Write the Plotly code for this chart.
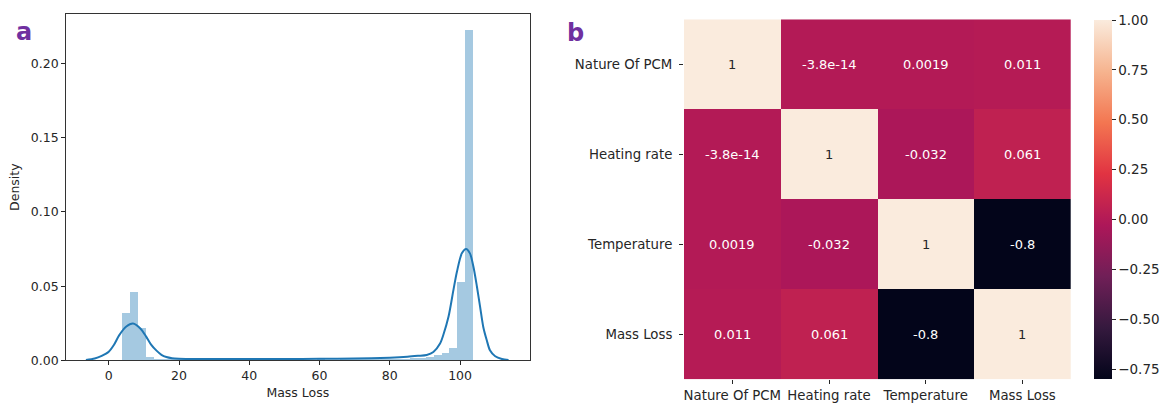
import numpy as np
import plotly.graph_objects as go

# ---------------- Panel a: Mass Loss distribution ----------------
hist_start = 3.8
hist_end = 103.5
hist_density = [
    0.032, 0.046, 0.022, 0.0025, 0.0012,
    0.0009, 0.0006, 0.0006, 0.0005, 0.0005, 0.0006, 0.0005, 0.0005, 0.0006, 0.0005,
    0.0005, 0.0006, 0.0005, 0.0005, 0.0006, 0.0005, 0.0005, 0.0006, 0.0005, 0.0005,
    0.0006, 0.0005, 0.0005, 0.0006, 0.0006, 0.0006, 0.0007, 0.0007, 0.0008, 0.0009,
    0.0010, 0.0011, 0.0013, 0.0016,
    0.0020, 0.0034, 0.0049, 0.0083, 0.053, 0.223,
]
kde_x = [-6.5, -4, -2, 0, 1.5, 3, 5, 6.9, 9, 10.7, 12, 13.6, 15, 16.4, 18, 20,
         30, 40, 50, 60, 70, 80, 85, 88, 90.5, 92.4, 94.3, 95.2, 96.7, 98.1, 99.1,
         100.5, 101.7, 102.8, 103.8, 104.8, 105.7, 106.6, 107.6, 108.5, 110, 111.9, 113.8]
kde_y = [0.0002, 0.0012, 0.003, 0.0058, 0.0105, 0.017, 0.0228, 0.0248, 0.0215, 0.0158,
         0.0108, 0.0065, 0.0037, 0.0022, 0.0014, 0.0011,
         0.0009, 0.0009, 0.0009, 0.0010, 0.0012, 0.0018, 0.0024, 0.0030, 0.0036, 0.0056,
         0.0113, 0.0169, 0.0293, 0.0473, 0.0597,
         0.0721, 0.0750, 0.0721, 0.0631, 0.0496, 0.0360, 0.0225, 0.0135, 0.0068, 0.0027,
         0.0009, 0.0002]
a_xticks = [0, 20, 40, 60, 80, 100]
a_yticks = [0.00, 0.05, 0.10, 0.15, 0.20]

# ---------------- Panel b: correlation matrix ----------------
variables = ["Nature Of PCM", "Heating rate", "Temperature", "Mass Loss"]
corr = [
    [1.0, -3.8e-14, 0.0019, 0.011],
    [-3.8e-14, 1.0, -0.032, 0.061],
    [0.0019, -0.032, 1.0, -0.8],
    [0.011, 0.061, -0.8, 1.0],
]
corr_text = [
    ["1", "-3.8e-14", "0.0019", "0.011"],
    ["-3.8e-14", "1", "-0.032", "0.061"],
    ["0.0019", "-0.032", "1", "-0.8"],
    ["0.011", "0.061", "-0.8", "1"],
]
cbar_ticks = [1.0, 0.75, 0.5, 0.25, 0.0, -0.25, -0.5, -0.75]

# rocket colormap
rocket = [
    [0.0, "#03051a"], [1 / 7, "#35193e"], [2 / 7, "#701f57"], [3 / 7, "#ad1759"],
    [4 / 7, "#e13342"], [5 / 7, "#f37651"], [6 / 7, "#f6b48f"], [1.0, "#faebdd"],
]

W, H = 1164, 403
TXT = "#262626"
FONT = "DejaVu Sans"

def px_x(p):
    return p / W

def px_y(p):
    return 1 - p / H

edges = np.linspace(hist_start, hist_end, len(hist_density) + 1)
centers = (edges[:-1] + edges[1:]) / 2
bw = edges[1] - edges[0]

fig = go.Figure()
fig.add_trace(go.Bar(
    x=centers, y=hist_density, width=bw,
    marker=dict(color="rgba(31,119,180,0.4)", line=dict(width=0)),
    xaxis="x", yaxis="y", showlegend=False, hoverinfo="skip",
))
fig.add_trace(go.Scatter(
    x=kde_x, y=kde_y, mode="lines", line=dict(color="#1f77b4", width=2, shape="spline", smoothing=0.8),
    xaxis="x", yaxis="y", showlegend=False,
))

fig.add_trace(go.Heatmap(
    z=corr, x=variables, y=variables,
    colorscale=rocket, zmin=-0.8, zmax=1.0,
    xgap=0, ygap=0,
    xaxis="x2", yaxis="y2", hoverinfo="skip",
    colorbar=dict(
        x=px_x(1094), xanchor="left", xref="paper", xpad=0, ypad=0,
        y=px_y(199.5), yanchor="middle",
        thickness=18, thicknessmode="pixels",
        len=359, lenmode="pixels",
        outlinewidth=0,
        tickvals=cbar_ticks,
        ticktext=[f"{v:.2f}".replace("-", "\u2212") for v in cbar_ticks],
        ticks="outside", ticklen=4, tickcolor=TXT, tickwidth=1,
        tickfont=dict(family=FONT, size=13.5, color=TXT),
    ),
))

annotations = []
for i, rname in enumerate(variables):
    for j, cname in enumerate(variables):
        v = corr[i][j]
        annotations.append(dict(
            x=cname, y=rname, xref="x2", yref="y2", text=corr_text[i][j],
            showarrow=False,
            font=dict(family=FONT, size=13, color="#262626" if v > 0.5 else "white"),
        ))

annotations.append(dict(x=px_x(24), y=px_y(32), xref="paper", yref="paper", text="<b>a</b>",
                        showarrow=False, xanchor="center", yanchor="middle",
                        font=dict(family=FONT, size=24, color="#7030A0")))
annotations.append(dict(x=px_x(575), y=px_y(33), xref="paper", yref="paper", text="<b>b</b>",
                        showarrow=False, xanchor="center", yanchor="middle",
                        font=dict(family=FONT, size=24, color="#7030A0")))

axis_common = dict(
    showgrid=False, zeroline=False, ticks="outside", ticklen=3.5, tickwidth=1,
    tickcolor=TXT, linecolor="#333", linewidth=1, showline=True, mirror=True,
    automargin=False,
    tickfont=dict(family=FONT, size=12.5, color=TXT),
)

fig.update_layout(
    width=W, height=H, margin=dict(l=0, r=0, t=0, b=0, autoexpand=False),
    paper_bgcolor="white", plot_bgcolor="white",
    bargap=0, showlegend=False,
    xaxis=dict(domain=[px_x(65.7), px_x(530)], range=[-12.25, 119.9],
               tickvals=a_xticks, ticktext=[str(t) for t in a_xticks],
               title=dict(text="Mass Loss", font=dict(family=FONT, size=12.5, color=TXT), standoff=6),
               anchor="y", **axis_common),
    yaxis=dict(domain=[px_y(360.3), px_y(14)], range=[0, 0.2335],
               tickvals=a_yticks, ticktext=[f"{t:.2f}" for t in a_yticks],
               title=dict(text="Density", font=dict(family=FONT, size=12.5, color=TXT), standoff=8),
               anchor="x", **axis_common),
    xaxis2=dict(domain=[px_x(684), px_x(1070.7)], anchor="y2", automargin=False,
                showgrid=False, zeroline=False, showline=False,
                ticks="outside", ticklen=3.5, tickcolor=TXT, ticklabelstandoff=0,
                tickfont=dict(family=FONT, size=13.3, color=TXT)),
    yaxis2=dict(domain=[px_y(379.3), px_y(19.3)], anchor="x2", autorange="reversed", automargin=False,
                showgrid=False, zeroline=False, showline=False,
                ticks="outside", ticklen=4, tickcolor=TXT, ticklabelstandoff=4,
                tickfont=dict(family=FONT, size=13.3, color=TXT)),
    annotations=annotations,
)

fig.write_html("out.html", config={"responsive": False},
               post_script="document.body.style.margin='0';document.body.style.overflow='hidden';")
